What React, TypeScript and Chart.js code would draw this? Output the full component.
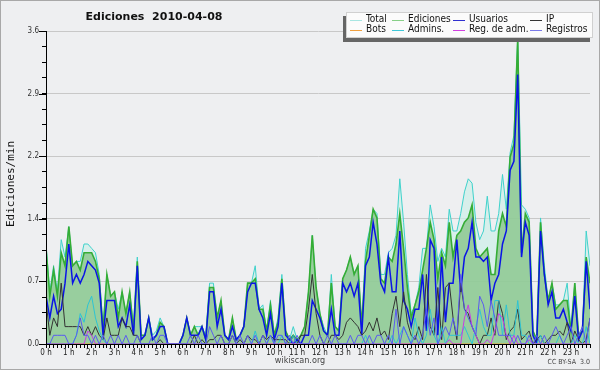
import React, { useEffect, useRef } from "react";
import { Chart, registerables } from "chart.js";

Chart.register(...registerables);

const titleText = "Ediciones  2010-04-08";
const yTitle = "Ediciones/min";
const hourLabels = [
  "0 h", "1 h", "2 h", "3 h", "4 h", "5 h", "6 h", "7 h", "8 h", "9 h", "10 h", "11 h",
  "12 h", "13 h", "14 h", "15 h", "16 h", "17 h", "18 h", "19 h", "20 h", "21 h", "22 h", "23 h",
];
const yMajorValues = [0, 0.72, 1.44, 2.16, 2.88, 3.6];
const yMajorLabels = ["0.0", "0.7", "1.4", "2.2", "2.9", "3.6"];

// 10-minute bins, edits per minute (6 per hour)
const total = [
  1.15, 0.6, 0.9, 0.6, 1.2, 1.0,
  1.35, 0.9, 0.95, 0.95, 1.15, 1.15,
  1.1, 1.05, 0.8, 0.2, 0.8, 0.55,
  0.6, 0.4, 0.6, 0.35, 0.6, 0.2,
  1.0, 0.1, 0.1, 0.3, 0.1, 0.15,
  0.3, 0.2, 0, 0, 0, 0,
  0.1, 0.3, 0.1, 0.2, 0.2, 0.2,
  0.1, 0.7, 0.7, 0.3, 0.5, 0.1,
  0.05, 0.3, 0.05, 0.1, 0.2, 0.7,
  0.7, 0.9, 0.4, 0.45, 0.15, 0.5,
  0.1, 0.3, 0.8, 0.15, 0.05, 0.2,
  0.05, 0.1, 0.2, 0.6, 1.25, 0.65,
  0.35, 0.2, 0.1, 0.8, 0.2, 0.15,
  0.75, 0.85, 1.0, 0.8, 0.9, 0.2,
  1.1, 1.3, 1.55, 1.5, 0.8, 0.8,
  1.05, 1.1, 1.25, 1.9, 1.4, 0.8,
  0.35, 0.45, 0.65, 1.1, 1.1, 1.6,
  1.35, 0.95, 1.1, 1.0, 1.55, 1.3,
  1.3, 1.5, 1.75, 1.9, 1.85, 1.4,
  1.2, 1.3, 1.7, 1.3, 1.3, 1.5,
  1.95, 1.55, 2.2, 2.4, 3.55, 1.6,
  1.55, 1.45, 0.15, 0.05, 1.45, 0.9,
  0.5, 0.7, 0.45, 0.45, 0.5, 0.7,
  0.15, 0.7, 0.1, 0.15, 1.3, 0.9,
];
const ediciones = [
  1.1, 0.55, 0.85, 0.55, 1.05, 0.9,
  1.35, 0.9, 0.95, 0.85, 1.05, 1.05,
  1.05, 0.95, 0.75, 0.15, 0.8, 0.55,
  0.6, 0.3, 0.6, 0.35, 0.6, 0.15,
  0.95, 0.1, 0.1, 0.3, 0.05, 0.1,
  0.25, 0.2, 0, 0, 0, 0,
  0.1, 0.3, 0.1, 0.2, 0.1, 0.2,
  0.05, 0.65, 0.65, 0.3, 0.5, 0.1,
  0.05, 0.3, 0.05, 0.1, 0.2, 0.7,
  0.7, 0.75, 0.4, 0.4, 0.15, 0.45,
  0.1, 0.25, 0.75, 0.15, 0.05, 0.1,
  0.05, 0.1, 0.2, 0.6, 1.25, 0.65,
  0.35, 0.15, 0.1, 0.7, 0.2, 0.15,
  0.75, 0.85, 1.0, 0.8, 0.9, 0.2,
  0.95, 1.25, 1.55, 1.45, 0.75, 0.7,
  1.0, 0.95, 1.15, 1.5, 1.1, 0.65,
  0.3, 0.45, 0.6, 0.85, 1.1, 1.4,
  1.2, 0.75, 1.05, 0.9, 1.4, 1.0,
  1.25, 1.3, 1.4, 1.45, 1.6, 1.1,
  1.0, 1.05, 1.1, 0.8, 0.8, 1.3,
  1.5, 1.35, 2.15, 2.3, 3.5, 1.05,
  1.5, 1.4, 0.15, 0.05, 1.4, 0.8,
  0.5, 0.7, 0.4, 0.45, 0.5, 0.5,
  0.15, 0.7, 0.1, 0.15, 1.0, 0.7,
];
const usuarios = [
  0.55, 0.3, 0.55, 0.35, 0.4, 0.7,
  1.15, 0.7, 0.8, 0.7, 0.8, 0.95,
  0.9, 0.85, 0.7, 0.1, 0.5, 0.5,
  0.5, 0.2, 0.3, 0.2, 0.45, 0.1,
  0.9, 0.05, 0.1, 0.3, 0.05, 0.1,
  0.2, 0.2, 0, 0, 0, 0,
  0.1, 0.3, 0.1, 0.1, 0.1, 0.2,
  0.05, 0.6, 0.6, 0.2, 0.4, 0.1,
  0.05, 0.2, 0.05, 0.1, 0.2, 0.6,
  0.7, 0.7, 0.4, 0.3, 0.1, 0.35,
  0.05, 0.2, 0.7, 0.1, 0.05, 0,
  0.05, 0, 0.1, 0.1, 0.5, 0.4,
  0.3, 0.15, 0.1, 0.4, 0.1, 0.1,
  0.7, 0.6, 0.7, 0.55, 0.7, 0.1,
  0.9, 1.0, 1.4, 1.15, 0.7, 0.6,
  1.0, 0.6, 0.6, 1.3, 0.5, 0.4,
  0.2, 0.4, 0.4, 0.8, 0.15, 1.2,
  1.1, 0.1, 1.0, 0.25, 0.7, 0.7,
  1.2, 0.6, 1.0, 1.1, 1.4, 1.0,
  1.0, 0.95, 1.0, 0.5, 0.7, 0.8,
  1.15, 1.3, 2.0, 2.1, 3.1, 1.0,
  1.4, 1.25, 0.1, 0, 1.3, 0.8,
  0.45, 0.6, 0.3, 0.3, 0.4, 0.25,
  0.15, 0.55, 0.05, 0.15, 0.95, 0.4,
];
const ip = [
  0.5, 0.1, 0.3, 0.2, 0.7, 0.2,
  0.2, 0.2, 0.2, 0.2, 0.1, 0.2,
  0.1, 0.2, 0.1, 0.05, 0.3, 0.1,
  0.1, 0.1, 0.3, 0.2, 0.2, 0.1,
  0.1, 0, 0, 0, 0, 0,
  0.05, 0, 0, 0, 0, 0,
  0, 0, 0, 0.1, 0, 0.05,
  0, 0.05, 0.05, 0.1, 0.1, 0,
  0, 0.1, 0, 0.05, 0, 0.1,
  0.05, 0.05, 0, 0.1, 0.05, 0.1,
  0.05, 0.05, 0.05, 0.05, 0, 0.1,
  0, 0.1, 0.1, 0.4, 0.8, 0.35,
  0.1, 0, 0, 0.1, 0.1, 0.05,
  0.1, 0.25, 0.3, 0.25, 0.2, 0.1,
  0.15, 0.25, 0.15, 0.3, 0.1, 0.15,
  0.05, 0.35, 0.55, 0.2, 0.6, 0.25,
  0.1, 0.05, 0.2, 0.05, 0.8, 0.2,
  0.1, 0.65, 0.05, 0.65, 0.7, 0.3,
  0.05, 0.7, 0.4, 0.35, 0.2, 0.1,
  0, 0.1, 0.1, 0.3, 0.1, 0.5,
  0.35, 0.05, 0.15, 0.2, 0.4, 0.05,
  0.1, 0.15, 0, 0.05, 0.1, 0,
  0.05, 0.1, 0.1, 0.15, 0.1, 0.25,
  0, 0.15, 0.05, 0, 0.05, 0.3,
];
const bots = [
  0, 0, 0, 0, 0, 0, 0, 0, 0, 0, 0, 0, 0, 0, 0, 0, 0, 0, 0, 0, 0, 0, 0, 0,
  0, 0, 0, 0, 0, 0, 0, 0, 0, 0, 0, 0, 0, 0, 0, 0, 0, 0, 0, 0, 0, 0, 0, 0,
  0, 0, 0, 0, 0, 0, 0, 0, 0, 0, 0, 0, 0, 0, 0, 0, 0, 0, 0, 0, 0, 0, 0, 0,
  0, 0, 0, 0, 0, 0, 0, 0, 0, 0, 0, 0, 0, 0, 0, 0, 0, 0, 0, 0, 0, 0, 0, 0,
  0, 0, 0, 0, 0, 0, 0, 0, 0, 0, 0, 0, 0, 0, 0, 0, 0, 0, 0, 0, 0, 0, 0, 0,
  0, 0, 0, 0, 0, 0, 0, 0, 0, 0, 0, 0, 0, 0, 0, 0, 0, 0, 0, 0, 0, 0, 0, 0,
];
const admins = [
  0, 0, 0, 0, 0, 0,
  0, 0, 0.1, 0.35, 0.25, 0.45,
  0.55, 0.3, 0.15, 0.05, 0, 0,
  0, 0, 0, 0, 0, 0,
  0, 0, 0, 0, 0, 0,
  0, 0, 0, 0, 0, 0,
  0, 0, 0, 0, 0, 0,
  0, 0, 0, 0, 0, 0,
  0, 0, 0, 0, 0, 0,
  0, 0.15, 0, 0, 0, 0.1,
  0, 0, 0.1, 0, 0, 0.1,
  0, 0, 0, 0, 0, 0,
  0, 0, 0, 0, 0, 0,
  0, 0, 0, 0, 0, 0,
  0.1, 0, 0, 0, 0, 0,
  0, 0.1, 0, 0.1, 0.2, 0.1,
  0, 0.3, 0.1, 0, 0.1, 0.4,
  0.1, 0, 0.2, 0, 0.1, 0.1,
  0.1, 0.1, 0.2, 0.1, 0, 0.2,
  0.4, 0.2, 0.1, 0.1, 0.5, 0.5,
  0.1, 0.45, 0.1, 0.1, 0.5, 0.1,
  0.1, 0, 0, 0, 0.1, 0,
  0, 0, 0, 0.1, 0, 0,
  0, 0.1, 0, 0, 0.2, 0,
];
const regAdm = [
  0, 0, 0, 0, 0, 0,
  0, 0, 0, 0, 0, 0.15,
  0.1, 0, 0, 0, 0, 0,
  0, 0, 0, 0, 0, 0,
  0, 0, 0, 0, 0, 0,
  0, 0, 0, 0, 0, 0,
  0, 0, 0, 0, 0, 0,
  0, 0, 0, 0, 0, 0,
  0, 0, 0, 0, 0, 0,
  0, 0, 0, 0, 0, 0,
  0, 0, 0, 0, 0, 0,
  0, 0, 0, 0, 0, 0,
  0, 0, 0, 0, 0, 0,
  0, 0, 0, 0, 0, 0,
  0, 0, 0, 0, 0, 0,
  0, 0, 0, 0, 0, 0,
  0, 0, 0, 0, 0, 0,
  0, 0, 0, 0, 0.05, 0,
  0, 0, 0.3, 0.45, 0.2, 0.1,
  0, 0, 0.05, 0, 0.15, 0.35,
  0.3, 0.1, 0, 0.1, 0, 0,
  0, 0.05, 0, 0, 0, 0,
  0, 0, 0, 0, 0, 0,
  0, 0, 0, 0, 0, 0,
];
const registros = [
  0, 0, 0.1, 0.1, 0.1, 0.1,
  0, 0, 0.1, 0.3, 0.1, 0.1,
  0, 0.1, 0, 0.1, 0, 0.1,
  0, 0.1, 0, 0.1, 0, 0,
  0.1, 0, 0, 0, 0.1, 0,
  0.1, 0.1, 0, 0, 0, 0,
  0, 0, 0.1, 0, 0.1, 0,
  0, 0.2, 0.1, 0, 0.1, 0,
  0, 0.1, 0, 0.1, 0, 0.1,
  0, 0.1, 0, 0.1, 0, 0.1,
  0, 0.1, 0.1, 0, 0.1, 0,
  0.1, 0, 0, 0, 0.1, 0,
  0.1, 0, 0.1, 0, 0.1, 0,
  0, 0, 0.1, 0, 0.1, 0.1,
  0, 0.1, 0, 0.1, 0.1, 0,
  0.1, 0, 0.4, 0, 0.2, 0.1,
  0, 0.1, 0, 0.1, 0.4, 0.1,
  0.3, 0, 0.1, 0.2, 0.1, 0.3,
  0.1, 0.8, 0.4, 0.3, 0.2, 0.1,
  0.55, 0.45, 0.2, 0.5, 0.3, 0.1,
  0.1, 0.1, 0.1, 0, 0.1, 0,
  0, 0.1, 0, 0.1, 0, 0.1,
  0, 0.1, 0.2, 0.1, 0, 0.1,
  0.2, 0, 0.1, 0.2, 0, 0.3,
];

const BG = "#eeeff1";
const COLORS = {
  total: "#3fd2cc",
  totalFill: "rgba(205,240,232,0.7)",
  ediciones: "#35ad35",
  edicionesFill: "rgba(125,192,125,0.7)",
  usuarios: "#0a14e6",
  ip: "#333333",
  bots: "#f0a030",
  admins: "#2ec4d4",
  regAdm: "#c83ce6",
  registros: "#5a5af0",
};

const legendItems = [
  { label: "Total", color: "#a8e6e2", col: 0, row: 0 },
  { label: "Ediciones", color: "#88d088", col: 1, row: 0 },
  { label: "Usuarios", color: "#3030d0", col: 2, row: 0 },
  { label: "IP", color: "#333333", col: 3, row: 0 },
  { label: "Bots", color: "#f0a040", col: 0, row: 1 },
  { label: "Admins.", color: "#40c8d8", col: 1, row: 1 },
  { label: "Reg. de adm.", color: "#d040e0", col: 2, row: 1 },
  { label: "Registros", color: "#7a7ae8", col: 3, row: 1 },
];

const toXY = (arr: number[]) => arr.map((v, i) => ({ x: i, y: v }));

const FONT = '"DejaVu Sans Condensed", "DejaVu Sans", sans-serif';

const decoPlugin = {
  id: "deco",
  beforeDraw(chart: any) {
    const ctx = chart.ctx;
    ctx.save();
    ctx.fillStyle = BG;
    ctx.fillRect(0, 0, chart.width, chart.height);
    ctx.restore();
  },
  afterDraw(chart: any) {
    const ctx = chart.ctx;
    const area = chart.chartArea;
    const y = chart.scales.y;
    ctx.save();
    // major tick extension
    ctx.strokeStyle = "#000";
    ctx.lineWidth = 1;
    for (const v of yMajorValues) {
      const py = Math.round(y.getPixelForValue(v)) + 0.5;
      ctx.beginPath();
      ctx.moveTo(area.left - 7, py);
      ctx.lineTo(area.left, py);
      ctx.stroke();
    }
    // title
    ctx.fillStyle = "#111";
    ctx.font = 'bold 11px "DejaVu Sans", sans-serif';
    ctx.textAlign = "center";
    ctx.textBaseline = "middle";
    ctx.fillText(titleText, 154, 17);
    // y title
    ctx.save();
    ctx.translate(11, 184);
    ctx.rotate(-Math.PI / 2);
    ctx.font = '11px "DejaVu Sans Mono", monospace';
    ctx.fillStyle = "#111";
    ctx.fillText(yTitle, 0, 0);
    ctx.restore();
    // footer
    ctx.font = "9px " + FONT;
    ctx.fillStyle = "#444";
    ctx.textAlign = "center";
    ctx.fillText("wikiscan.org", 300, 361);
    ctx.font = "7px " + FONT;
    ctx.textAlign = "right";
    ctx.fillText("CC BY-SA  3.0", 590, 362);
    // legend
    const bx = 346, by = 12, bw = 247, bh = 26;
    ctx.fillStyle = "#666";
    ctx.fillRect(bx - 3, by + 4, bw, bh);
    ctx.fillStyle = "#fbfbfb";
    ctx.fillRect(bx, by, bw, bh);
    ctx.strokeStyle = "#d0d0d0";
    ctx.strokeRect(bx + 0.5, by + 0.5, bw - 1, bh - 1);
    const colX = [366, 408, 469, 546];
    const rowY = [19.5, 29.5];
    ctx.font = "10px " + FONT;
    ctx.textAlign = "left";
    ctx.textBaseline = "middle";
    for (const it of legendItems) {
      const tx = colX[it.col];
      const ty = rowY[it.row];
      ctx.strokeStyle = it.color;
      ctx.lineWidth = 1;
      ctx.beginPath();
      ctx.moveTo(tx - 16, Math.round(ty) + 0.5);
      ctx.lineTo(tx - 4, Math.round(ty) + 0.5);
      ctx.stroke();
      ctx.fillStyle = "#111";
      ctx.fillText(it.label, tx, ty);
    }
    // outer border
    ctx.strokeStyle = "#a8a8a8";
    ctx.lineWidth = 1;
    ctx.strokeRect(0.5, 0.5, chart.width - 1, chart.height - 1);
    ctx.restore();
  },
};

export default function App() {
  const ref = useRef<HTMLCanvasElement | null>(null);
  useEffect(() => {
    const canvas = ref.current;
    if (!canvas) return;
    const bins = total.map((_, i) => i);
    const yTicks = Array.from({ length: 21 }, (_, k) => Math.round(k * 18) / 100);
    const line = (label: string, data: number[], color: string, width: number, order: number, fill?: any) => ({
      label,
      data: toXY(data),
      borderColor: color,
      borderWidth: width,
      backgroundColor: fill || color,
      fill: fill ? "origin" : false,
      pointRadius: 0,
      tension: 0,
      order,
    });
    const chart = new Chart(canvas, {
      type: "line",
      data: {
        datasets: [
          line("Registros", registros, COLORS.registros, 1, 1),
          line("Reg. de adm.", regAdm, COLORS.regAdm, 1, 2),
          line("Admins.", admins, COLORS.admins, 1, 3),
          line("Bots", bots, COLORS.bots, 1, 4),
          line("IP", ip, COLORS.ip, 1, 5),
          line("Usuarios", usuarios, COLORS.usuarios, 1.5, 6),
          line("Ediciones", ediciones, COLORS.ediciones, 1.6, 7, COLORS.edicionesFill),
          line("Total", total, COLORS.total, 1, 8, COLORS.totalFill),
        ] as any,
      },
      options: {
        animation: false,
        responsive: false,
        devicePixelRatio: 1,
        layout: { padding: { left: 0, top: 31, right: 10, bottom: 0 } },
        plugins: { legend: { display: false }, title: { display: false }, tooltip: { enabled: false } },
        scales: {
          x: {
            type: "linear",
            min: 0,
            max: 143,
            afterBuildTicks: (s: any) => {
              s.ticks = bins.map((v) => ({ value: v }));
            },
            afterFit: (s: any) => {
              s.height = 26;
            },
            ticks: {
              autoSkip: false,
              maxRotation: 0,
              minRotation: 0,
              padding: 0,
              color: "#222",
              font: { family: FONT, size: 8 },
              callback: (_v: any, i: number) => (i % 6 === 0 ? hourLabels[i / 6] : ""),
            },
            grid: { display: true, drawOnChartArea: false, drawTicks: true, tickLength: 4, color: "#000", tickColor: "#000" },
            border: { display: true, color: "#000", width: 1, z: 1 },
          },
          y: {
            min: 0,
            max: 3.6,
            afterBuildTicks: (s: any) => {
              s.ticks = yTicks.map((v) => ({ value: v }));
            },
            afterFit: (s: any) => {
              s.width = 46;
            },
            ticks: {
              autoSkip: false,
              padding: 3,
              color: "#333",
              font: { family: FONT, size: 8 },
              callback: (_v: any, i: number) => (i % 4 === 0 ? yMajorLabels[i / 4] : ""),
            },
            grid: {
              drawTicks: true,
              tickLength: 4,
              tickColor: "#000",
              color: (c: any) => (c.index % 4 === 0 && c.index > 0 ? "#c8c8c8" : "rgba(0,0,0,0)"),
            },
            border: { display: true, color: "#000", width: 1, z: 1 },
          },
        },
      } as any,
      plugins: [decoPlugin],
    });
    return () => chart.destroy();
  }, []);
  return (
    <div style={{ position: "absolute", left: 0, top: 0, width: 600, height: 370 }}>
      <canvas ref={ref} width={600} height={370} style={{ display: "block", width: 600, height: 370 }} />
    </div>
  );
}
